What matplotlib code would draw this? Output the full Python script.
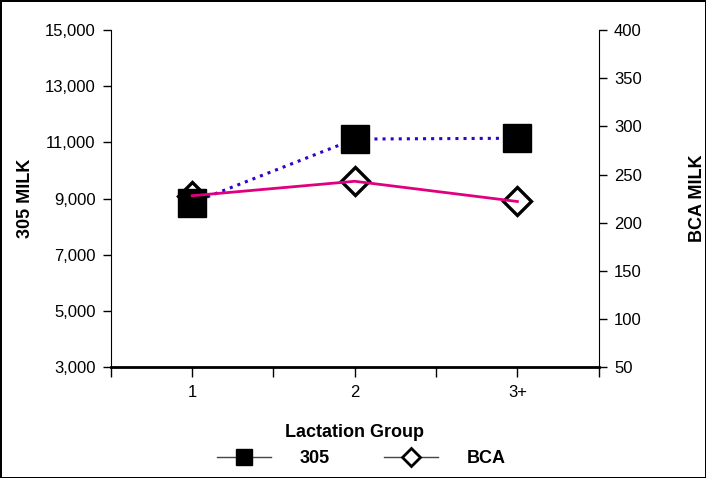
import matplotlib
matplotlib.use("Agg")
import matplotlib.pyplot as plt
from matplotlib.lines import Line2D
from matplotlib.ticker import FuncFormatter

# data
groups = ["1", "2", "3+"]
milk_305 = [8850, 11120, 11150]
milk_bca = [228, 243, 222]

plt.rcParams['font.family'] = ['Liberation Sans Narrow', 'Liberation Sans', 'DejaVu Sans']

fig = plt.figure(figsize=(7.06, 4.78), dpi=100)
fig.patch.set_edgecolor('black')
fig.patch.set_linewidth(2)

ax = fig.add_axes([0.157, 0.232, 0.691, 0.705])
ax2 = ax.twinx()

xpos = [i + 0.5 for i in range(len(groups))]

# 305 line (dotted, under everything)
ax.plot(xpos, milk_305, ':', color='#3300cc', lw=2.2, zorder=1)

# BCA markers, 305 squares, then the pink line on top
ax2.plot(xpos, milk_bca, 'D', ms=14.5, mfc='white', mec='black', mew=2.4, ls='none', zorder=2)
ax2.plot(xpos, milk_305, 's', ms=19.5, color='black', ls='none', zorder=3,
         transform=ax.transData)
ax2.plot(xpos, milk_bca, '-', color='#e0007f', lw=2, zorder=4)

ax.set_xlim(0, 3)
ax.set_ylim(3000, 15000)
ax2.set_ylim(50, 400)

ax.set_yticks(range(3000, 15001, 2000))
ax.yaxis.set_major_formatter(FuncFormatter(lambda v, p: f"{int(v):,}"))
ax2.set_yticks(range(50, 401, 50))

ax.set_xticks([0, 1, 2, 3])
ax.set_xticklabels([])
ax.set_xticks(xpos, minor=True)
ax.set_xticklabels(groups, minor=True)

for a in (ax, ax2):
    a.spines['top'].set_visible(False)
    a.tick_params(axis='y', direction='out', length=6, width=1, labelsize=12, pad=5)
ax.spines['right'].set_visible(False)
ax2.spines['left'].set_visible(False)
ax.spines['bottom'].set_linewidth(2)
ax.tick_params(axis='x', which='both', direction='out', length=7, width=1,
               labelsize=12, pad=6)

lab_font = dict(family=['Liberation Sans', 'DejaVu Sans'], fontweight='bold', fontsize=13)
ax.set_ylabel("305 MILK", labelpad=8, **lab_font)
ax2.set_ylabel("BCA MILK", labelpad=34, rotation=90, **lab_font)
ax.set_xlabel("Lactation Group", labelpad=17, **lab_font)

handles = [
    Line2D([], [], color='#444444', lw=1, marker='s', ms=11, mfc='black', mec='black'),
    Line2D([], [], color='#444444', lw=1, marker='D', ms=9, mfc='white', mec='black', mew=2),
]
fig.legend(handles, ["305", "BCA"], loc='center', bbox_to_anchor=(0.512, 0.04),
           ncol=2, frameon=False, handlelength=3, handletextpad=1.6,
           columnspacing=3.0, prop=dict(family=['Liberation Sans', 'DejaVu Sans'],
                                        weight='bold', size=13))

fig.savefig("out.png", dpi=100)
